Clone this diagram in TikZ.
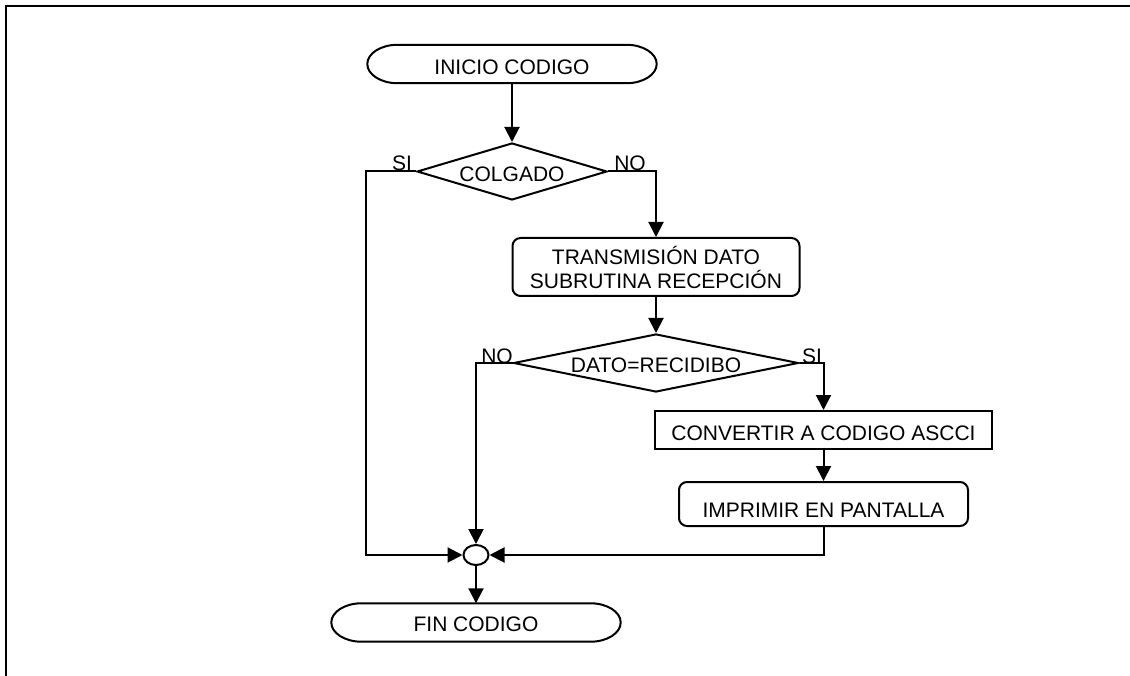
\documentclass[tikz,border=0pt]{standalone}
\usepackage{fontspec}
\setmainfont{Liberation Sans}
\usetikzlibrary{arrows.meta,shapes.geometric}
\newcommand\dn[2]{\raisebox{-#1pt}[\height][\depth]{#2}}
% elliptic-ended terminal outline around a node: #1 node name, #2 end radius (pt), #3 half height (pt)
\newcommand\termline[3]{%
  \draw[line width=2pt]
    ([xshift=#2pt]#1.north west) -- ([xshift=-#2pt]#1.north east)
    .. controls ([xshift=-0.448*#2pt]#1.north east) and ([yshift=0.552*#3pt]#1.east) .. (#1.east)
    .. controls ([yshift=-0.552*#3pt]#1.east) and ([xshift=-0.448*#2pt]#1.south east) .. ([xshift=-#2pt]#1.south east)
    -- ([xshift=#2pt]#1.south west)
    .. controls ([xshift=0.448*#2pt]#1.south west) and ([yshift=-0.552*#3pt]#1.west) .. (#1.west)
    .. controls ([yshift=0.552*#3pt]#1.west) and ([xshift=0.448*#2pt]#1.north west) .. ([xshift=#2pt]#1.north west)
    -- cycle;}
\begin{document}
\begin{tikzpicture}[x=1pt,y=-1pt,
  every node/.style={font=\fontsize{21}{24}\selectfont, inner sep=0pt},
  conn/.style={line width=2pt, -{Triangle[length=15pt,width=15pt]}},
  termbox/.style={rectangle, minimum height=38pt},
  decision/.style={diamond, draw, line width=2pt},
  procbox/.style={rectangle, draw, line width=2pt},
  roundbox/.style={procbox, rounded corners=8pt},
  junction/.style={ellipse, draw, line width=2pt, minimum width=25pt, minimum height=20pt},
  tag/.style={anchor=base}
]
\useasboundingbox (0,0) rectangle (1130,676);
% frame
\draw[line width=2pt] (6,676) -- (6,6) -- (1130,6);

% nodes
\node[termbox, minimum width=289pt] (st) at (512,64) {\dn{3}{INICIO CODIGO}};
\node[decision, shape aspect=3.33, minimum width=190pt, minimum height=57pt] (d1) at (512,171.5) {\dn{3}{COLGADO}};
\node[roundbox, minimum width=287pt, minimum height=58pt, align=center] (tb) at (656,267) {TRANSMISIÓN DATO\\SUBRUTINA RECEPCIÓN};
\node[decision, shape aspect=4.9, minimum width=285pt, minimum height=58pt] (d2) at (656,363) {\dn{2}{DATO=RECIDIBO}};
\node[procbox, minimum width=337pt, minimum height=38pt] (cv) at (823.5,430) {\dn{3}{CONVERTIR A CODIGO ASCCI}};
\node[roundbox, minimum width=289pt, minimum height=44pt] (im) at (823.5,504) {\dn{6}{IMPRIMIR EN PANTALLA}};
\node[junction] (m) at (476,555) {};
\node[termbox, minimum width=289pt] (fin) at (476,622.5) {\dn{2}{FIN CODIGO}};

\termline{st}{30}{19}
\termline{fin}{30}{19}

% labels
\node[tag] (l1) at (402,171) {SI};
\node[tag] (l2) at (630,171) {NO};
\node[tag] (l3) at (497,363) {NO};
\node[tag] (l4) at (812,363) {SI};

% connectors
\coordinate (siL) at ([xshift=-50pt]d1.west);
\draw[conn] (st.south) -- (d1.north);
\draw[conn] (d1.west) -- (siL) |- (m.west);
\draw[conn] (d1.east) -| (tb.north);
\draw[conn] (tb.south) -- (d2.north);
\draw[conn] (d2.west) -| (m.north);
\draw[conn] (d2.east) -| (cv.north);
\draw[conn] (cv.south) -- (im.north);
\draw[conn] (im.south) |- (m.east);
\draw[conn] (m.south) -- (fin.north);
\end{tikzpicture}
\end{document}
